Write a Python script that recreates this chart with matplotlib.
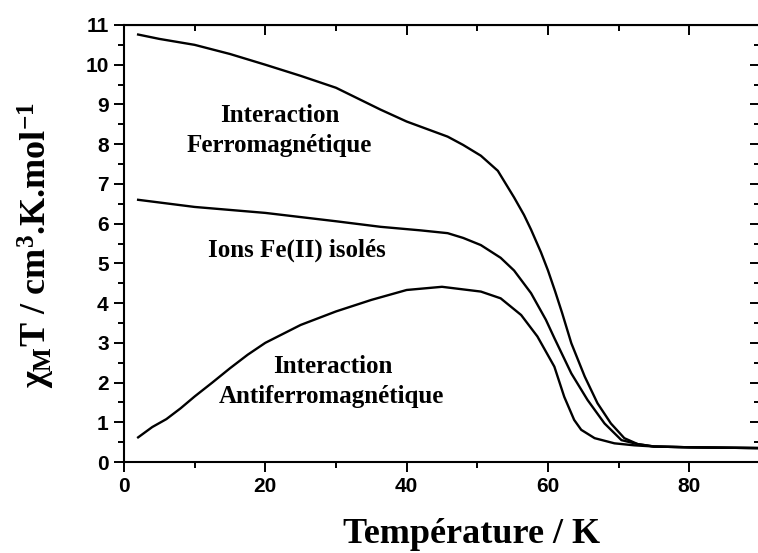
"""Chi_M T versus temperature for the three coupling cases."""

import matplotlib

matplotlib.use("Agg")
import matplotlib.pyplot as plt
from matplotlib.ticker import MultipleLocator

# values
t_ferro = [2, 5, 10, 15, 20, 25, 30, 36.3, 40, 45.8, 48, 50.5, 52.9, 55.2, 56.6, 57.6, 59, 60, 61,
           62, 63.3, 65.2, 67.0, 68.9, 70.8, 72.7, 75, 80, 90]
chi_ferro = [10.76, 10.65, 10.5, 10.27, 10.0, 9.72, 9.42, 8.87, 8.57, 8.19, 7.98, 7.71, 7.33, 6.66,
             6.22, 5.85, 5.28, 4.82, 4.30, 3.75, 2.99, 2.15, 1.48, 0.97, 0.60, 0.45, 0.39, 0.37, 0.35]

t_ions = [2, 10, 20, 30, 36.3, 42, 45.8, 48, 50.5, 53.3, 55.2, 57.6, 59.7, 60.9, 63.3, 65.6, 68.0,
          70.4, 72.7, 75, 80, 90]
chi_ions = [6.6, 6.42, 6.27, 6.06, 5.92, 5.83, 5.76, 5.64, 5.46, 5.14, 4.82, 4.25, 3.58, 3.12, 2.23,
            1.56, 0.97, 0.55, 0.45, 0.39, 0.37, 0.35]

t_anti = [2, 4, 6, 8, 10, 12.5, 15, 17.5, 20, 25, 30, 35, 40, 45, 50.5, 53.3, 56.2, 58.5, 60.9,
          62.3, 63.7, 64.7, 66.6, 69.4, 72.2, 75, 80, 90]
chi_anti = [0.62, 0.88, 1.08, 1.35, 1.65, 2.0, 2.36, 2.7, 3.0, 3.45, 3.79, 4.08, 4.33, 4.41, 4.29,
            4.12, 3.70, 3.16, 2.40, 1.64, 1.06, 0.81, 0.60, 0.47, 0.42, 0.39, 0.37, 0.35]

label_lines = ["Interaction", "Ferromagnétique", "Ions Fe(II) isolés", "Interaction", "Antiferromagnétique"]
label_xy = [(22.0, 8.56), (22.0, 7.81), (24.5, 5.17), (29.5, 2.24), (29.4, 1.49)]

plt.rcParams["mathtext.fontset"] = "custom"
plt.rcParams["mathtext.rm"] = "Liberation Serif:bold"
plt.rcParams["mathtext.it"] = "Liberation Serif:bold"
plt.rcParams["mathtext.bf"] = "Liberation Serif:bold"

W, H = 758, 553
fig = plt.figure(figsize=(W / 100, H / 100), dpi=100)
ax = fig.add_axes([124 / W, 1 - 462 / H, 636 / W, 437 / H])

for t, chi in [(t_ferro, chi_ferro), (t_ions, chi_ions), (t_anti, chi_anti)]:
    ax.plot(t, chi, color="black", linewidth=1.7, solid_joinstyle="round")

for text, (x, y) in zip(label_lines, label_xy):
    ax.text(x, y, text, ha="center", va="baseline", fontsize=18, fontweight="bold",
            family="Liberation Serif")

ax.set_xlim(0, 90)
ax.set_ylim(0, 11)
ax.xaxis.set_major_locator(MultipleLocator(20))
ax.xaxis.set_minor_locator(MultipleLocator(10))
ax.yaxis.set_major_locator(MultipleLocator(1))
ax.yaxis.set_minor_locator(MultipleLocator(0.5))

ax.tick_params(which="major", direction="out", length=7, width=1.4, labelsize=15, pad=4)
ax.tick_params(which="minor", direction="out", length=4, width=1.4)
for lab in ax.get_xticklabels() + ax.get_yticklabels():
    lab.set_fontfamily("Liberation Sans")
    lab.set_fontweight("bold")

for sp in ax.spines.values():
    sp.set_linewidth(1.5)

top = ax.secondary_xaxis("top")
top.xaxis.set_major_locator(MultipleLocator(20))
top.xaxis.set_minor_locator(MultipleLocator(10))
top.tick_params(which="major", direction="in", length=7, width=1.4, labeltop=False)
top.tick_params(which="minor", direction="in", length=4, width=1.4)
right = ax.secondary_yaxis("right")
right.yaxis.set_major_locator(MultipleLocator(1))
right.yaxis.set_minor_locator(MultipleLocator(0.5))
right.tick_params(which="major", direction="in", length=7, width=1.4, labelright=False)
right.tick_params(which="minor", direction="in", length=4, width=1.4)

fig.text(471.5 / W, 1 - 543 / H, "Température / K", ha="center", va="baseline",
         fontsize=26, fontweight="bold", family="Liberation Serif")
fig.text(36 / W, 1 - 245 / H, r"$\chi_{\mathrm{M}}$T / cm$^{3}$.K.mol$^{-1}$", ha="center",
         va="center", rotation=90, fontsize=26, fontweight="bold", family="Liberation Serif")

fig.savefig("out.png", dpi=100)
